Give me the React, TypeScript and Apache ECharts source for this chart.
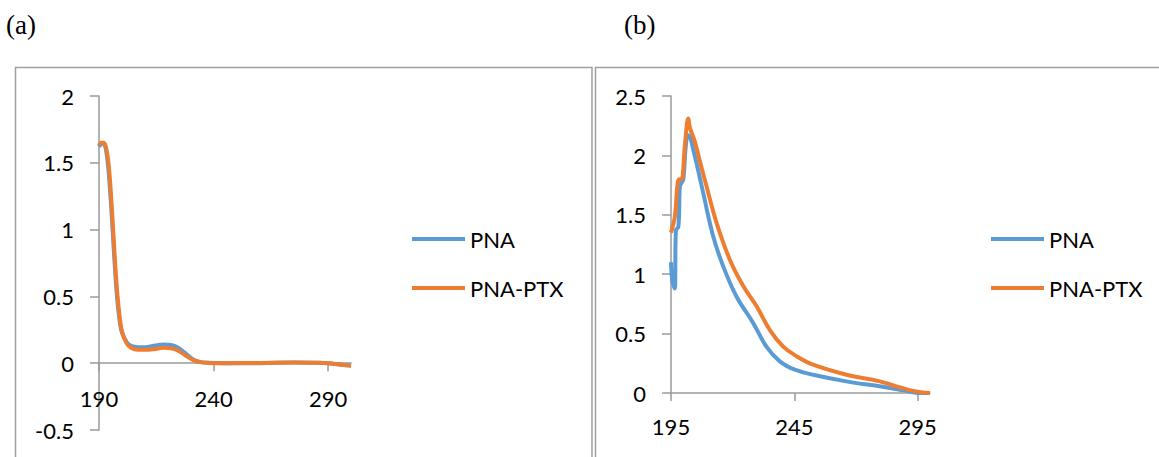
import React, { useEffect, useRef } from "react";
import * as echarts from "echarts";

// Panel (a)
const xA = [190, 191, 192, 193, 194, 195, 196, 197, 198, 199, 200, 202, 204, 207, 210, 214, 218, 222, 225, 228, 231, 234, 238, 245, 260, 275, 285, 290, 295, 300];
const pnaA = [1.62, 1.64, 1.645, 1.6, 1.47, 1.25, 0.98, 0.7, 0.47, 0.32, 0.23, 0.16, 0.13, 0.12, 0.12, 0.13, 0.14, 0.135, 0.11, 0.07, 0.03, 0.01, 0.003, 0.0, 0.0, 0.005, 0.004, 0.0, -0.01, -0.018];
const ptxA = [1.63, 1.65, 1.65, 1.62, 1.52, 1.32, 1.05, 0.76, 0.52, 0.35, 0.24, 0.15, 0.115, 0.1, 0.1, 0.105, 0.115, 0.11, 0.09, 0.055, 0.025, 0.008, 0.002, 0.0, 0.002, 0.005, 0.003, 0.0, -0.01, -0.02];

// Panel (b)
const xPnaB = [195, 195.5, 196.5, 197, 198, 198.6, 199.3, 200, 201.1, 202, 202.7, 204, 205.4, 208.1, 212.1, 216.2, 221.6, 228.3, 233.7, 239.1, 245.2, 252.6, 266.1, 279.6, 290, 295.8, 300];
const pnaB = [1.1, 0.95, 0.88, 1.37, 1.4, 1.74, 1.77, 1.8, 2.1, 2.17, 2.16, 2.05, 1.93, 1.68, 1.32, 1.065, 0.81, 0.59, 0.39, 0.266, 0.196, 0.154, 0.098, 0.056, 0.02, 0.0, 0.0];
const xPtxB = [195, 196.6, 197.7, 198.6, 199.3, 200.7, 202, 202.7, 204.6, 206.6, 209.4, 213.5, 218.9, 224.3, 229.7, 235.1, 240.5, 245.9, 252.6, 266.1, 279.6, 286.4, 293.1, 300];
const ptxB = [1.35, 1.49, 1.77, 1.8, 1.8, 2.1, 2.31, 2.23, 2.12, 1.96, 1.74, 1.43, 1.12, 0.9, 0.73, 0.53, 0.39, 0.31, 0.238, 0.154, 0.098, 0.056, 0.018, 0.0];

const seriesNames = ["PNA", "PNA-PTX"];
const ticksXA = [190, 240, 290];
const ticksXB = [195, 245, 295];

const BLUE = "#5B9BD5";
const ORANGE = "#ED7D31";
const AXIS = "#9a9a9a";
const FONT = "Lato";

const pairs = (xs: number[], ys: number[]) => xs.map((x, i) => [x, ys[i]]);

export default function App() {
  const ref = useRef<HTMLDivElement>(null);
  useEffect(() => {
    if (!ref.current) return;
    const chart = echarts.init(ref.current, null, { renderer: "svg" });
    const axisLabel = { color: "#000", fontSize: 22, fontFamily: FONT };
    const line = (name: string, color: string, data: number[][], idx: number) => ({
      name,
      type: "line",
      xAxisIndex: idx,
      yAxisIndex: idx,
      data,
      smooth: 0.4,
      symbol: "none",
      lineStyle: { color, width: 4 },
      itemStyle: { color },
    });
    const legend = (left: number) => ({
      orient: "vertical",
      left,
      top: 222,
      itemWidth: 53,
      itemHeight: 4,
      itemGap: 25,
      icon: "rect",
      data: seriesNames,
      textStyle: { fontSize: 22, fontFamily: FONT, color: "#000", lineHeight: 24 },
    });
    const border = (pts: number[][]) => ({
      type: "polyline",
      shape: { points: pts },
      style: { stroke: "#a0a0a0", lineWidth: 1.5, fill: "none" },
      silent: true,
    });
    chart.setOption({
      animation: false,
      grid: [
        { left: 99, top: 96, width: 252, height: 334, outerBoundsMode: "none", containLabel: false },
        { left: 671, top: 96, width: 259, height: 297, outerBoundsMode: "none", containLabel: false },
      ],
      xAxis: [
        {
          type: "value", gridIndex: 0, min: 190, max: 300,
          position: "bottom", offset: -66.8,
          splitLine: { show: false },
          axisLine: { onZero: false, lineStyle: { color: AXIS, width: 1.5 } },
          axisTick: { length: 8, lineStyle: { color: AXIS, width: 1.5 }, customValues: ticksXA },
          axisLabel: { ...axisLabel, margin: 24, customValues: ticksXA },
        },
        {
          type: "value", gridIndex: 1, min: 195, max: 300,
          splitLine: { show: false },
          axisLine: { onZero: false, lineStyle: { color: AXIS, width: 1.5 } },
          axisTick: { length: 8, lineStyle: { color: AXIS, width: 1.5 }, customValues: ticksXB },
          axisLabel: { ...axisLabel, margin: 22, customValues: ticksXB },
        },
      ],
      yAxis: [
        {
          type: "value", gridIndex: 0, min: -0.5, max: 2, interval: 0.5,
          splitLine: { show: false },
          axisLine: { show: true, onZero: false, lineStyle: { color: AXIS, width: 1.5 } },
          axisTick: { show: true, length: 9, lineStyle: { color: AXIS, width: 1.5 } },
          axisLabel: { ...axisLabel, margin: 25 },
        },
        {
          type: "value", gridIndex: 1, min: 0, max: 2.5, interval: 0.5,
          splitLine: { show: false },
          axisLine: { show: true, onZero: false, lineStyle: { color: AXIS, width: 1.5 } },
          axisTick: { show: true, length: 9, lineStyle: { color: AXIS, width: 1.5 } },
          axisLabel: { ...axisLabel, margin: 25 },
        },
      ],
      legend: [legend(407), legend(986)],
      series: [
        line(seriesNames[0], BLUE, pairs(xA, pnaA), 0),
        line(seriesNames[1], ORANGE, pairs(xA, ptxA), 0),
        line(seriesNames[0], BLUE, pairs(xPnaB, pnaB), 1),
        line(seriesNames[1], ORANGE, pairs(xPtxB, ptxB), 1),
      ],
      graphic: [
        border([[15.5, 457], [15.5, 67.5], [592, 67.5], [592, 457]]),
        border([[595.5, 457], [595.5, 67.5], [1159, 67.5]]),
        {
          type: "text", left: 6, top: 11,
          style: { text: "(a)", font: '27px "Liberation Serif"', fill: "#000" },
        },
        {
          type: "text", left: 624, top: 11,
          style: { text: "(b)", font: '27px "Liberation Serif"', fill: "#000" },
        },
      ],
    });
    return () => chart.dispose();
  }, []);
  return (
    <div
      ref={ref}
      style={{ position: "fixed", left: 0, top: 0, width: 1159, height: 457, background: "#fff" }}
    />
  );
}
